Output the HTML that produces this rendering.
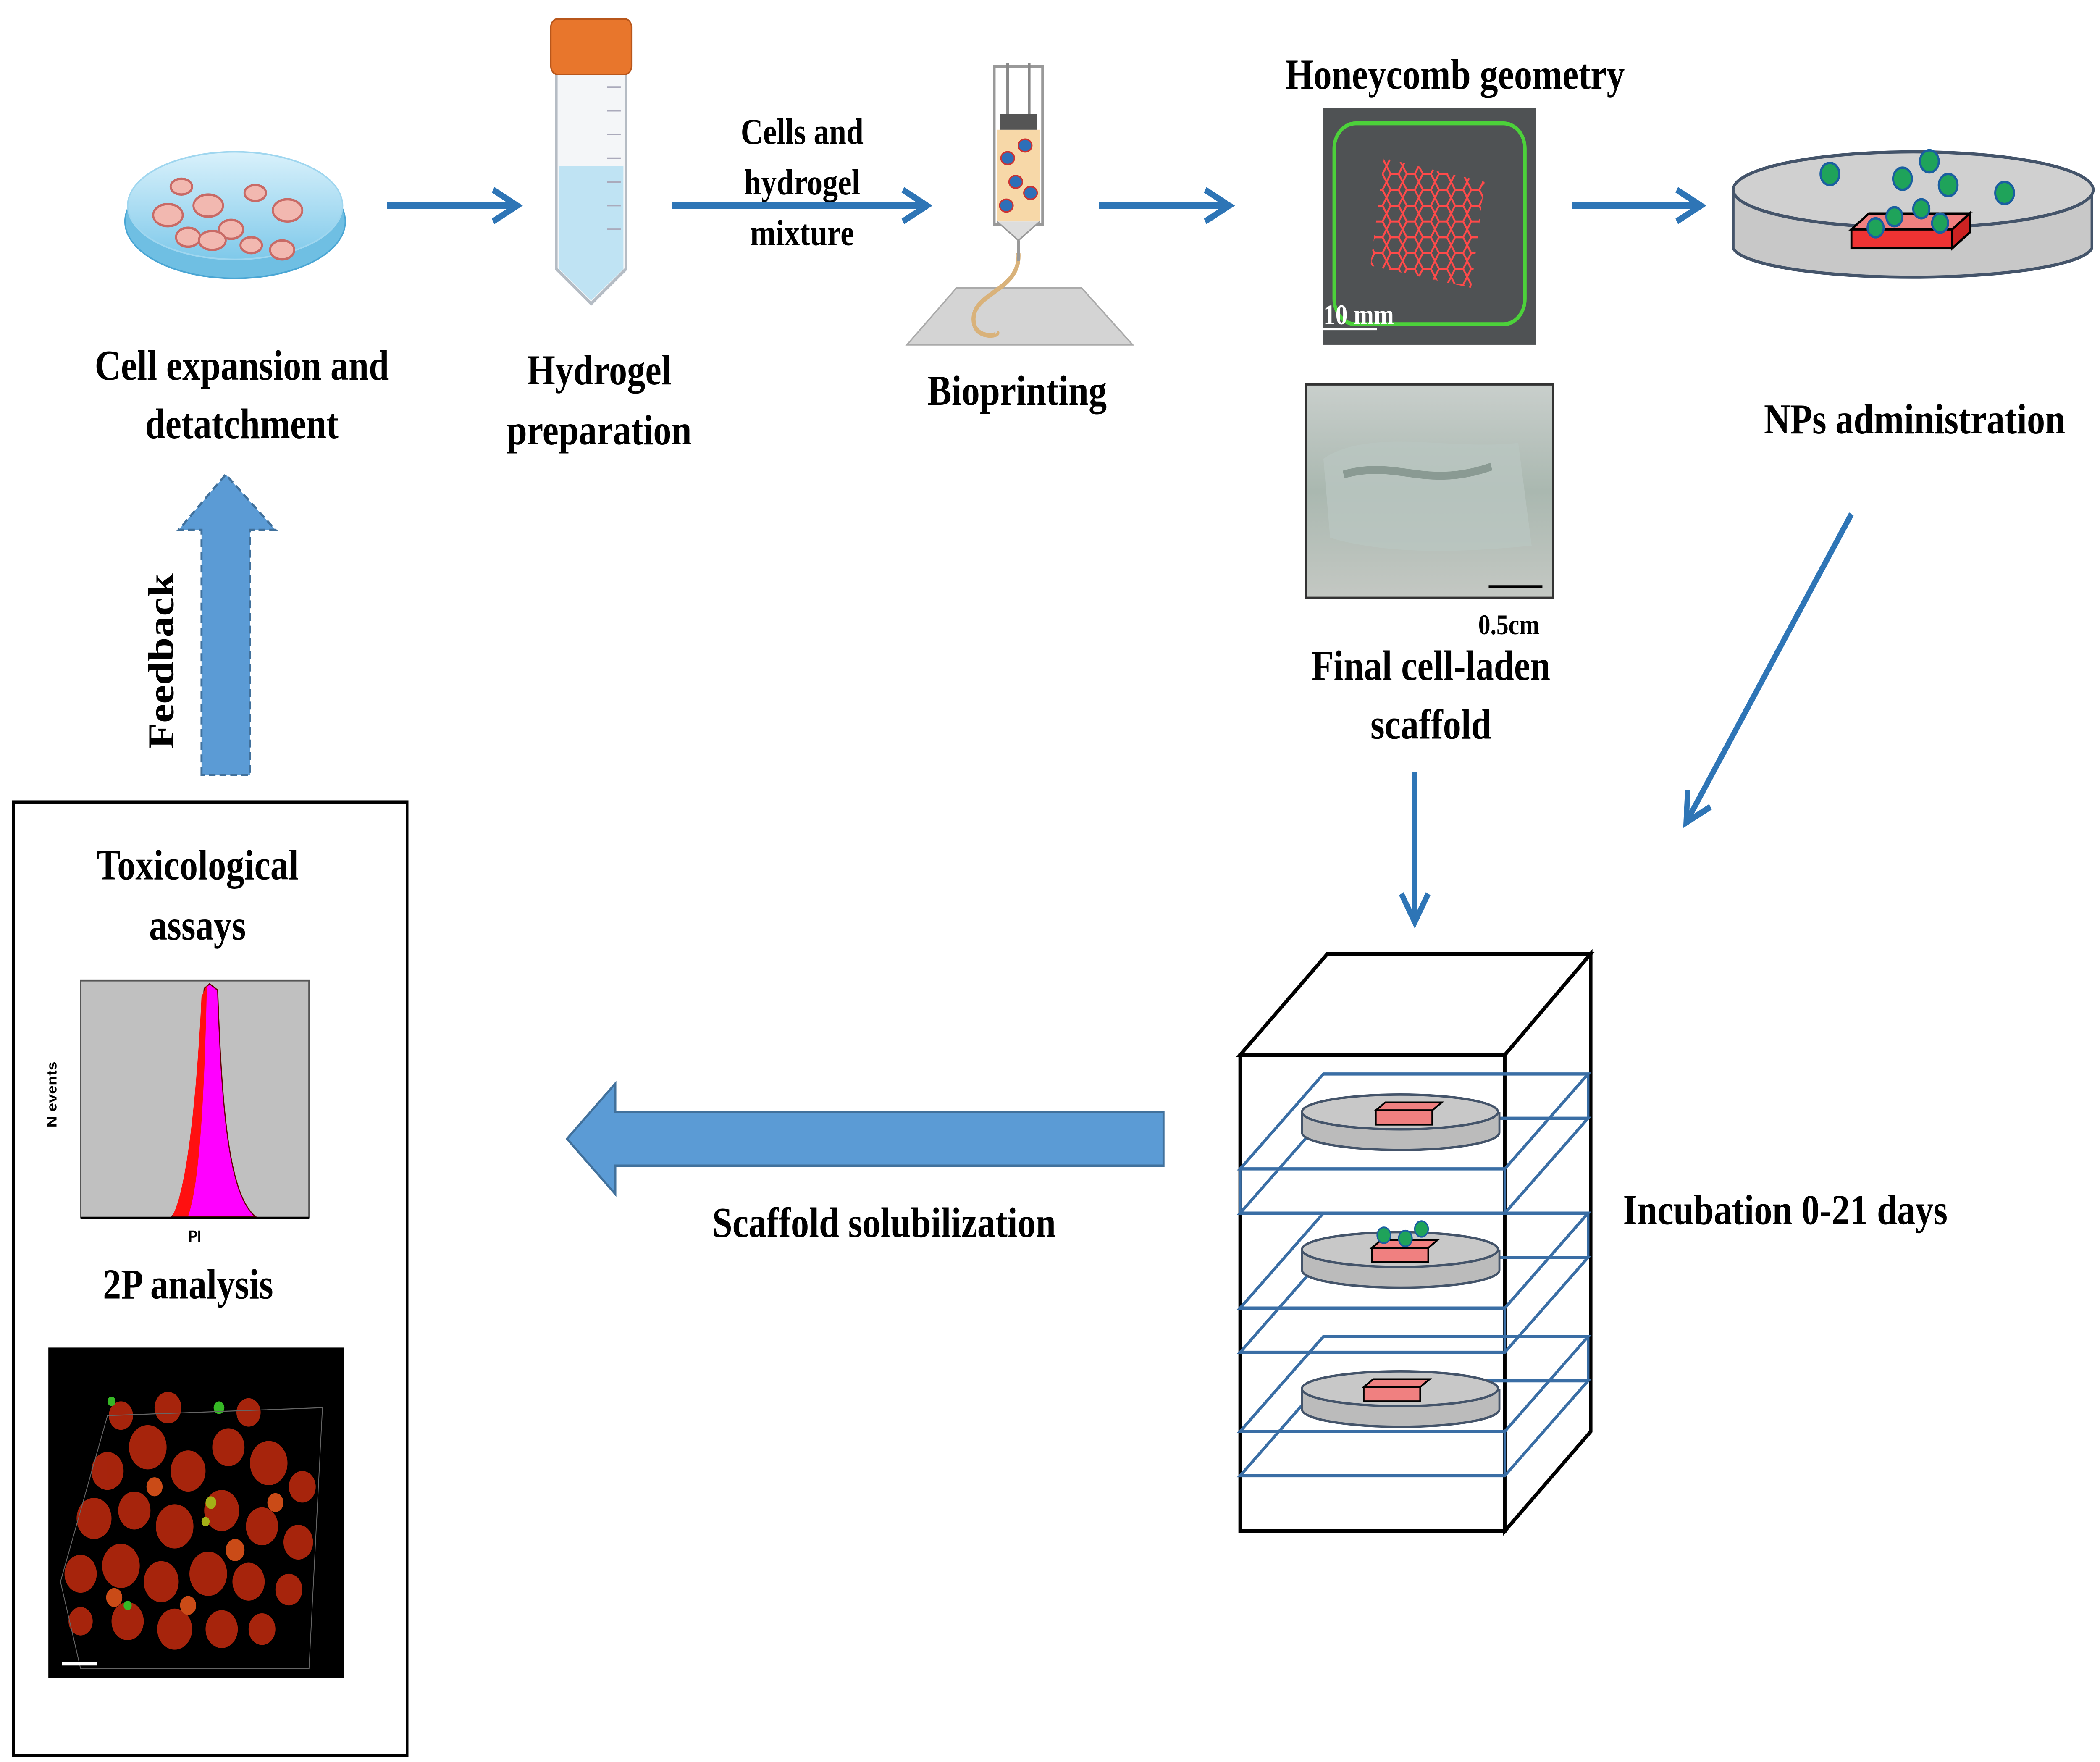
<!DOCTYPE html>
<html><head><meta charset="utf-8">
<style>
html,body{margin:0;padding:0;background:#fff;width:100%;height:100%;overflow:hidden;}
svg{display:block;width:100vw;height:100vh;}
text{font-family:"Liberation Serif",serif;font-weight:bold;fill:#000;}
</style></head>
<body>
<svg viewBox="0 0 1563 1114" preserveAspectRatio="none" xmlns="http://www.w3.org/2000/svg">
<defs>
<marker id="ah2" markerWidth="24" markerHeight="24" refX="20" refY="12" orient="auto" markerUnits="userSpaceOnUse">
<path d="M2,2 L20,12 L2,22" fill="none" stroke="#2e75b6" stroke-width="4"/>
</marker>
<pattern id="hex" width="12" height="10" patternUnits="userSpaceOnUse">
<path d="M0,5 L3,0 L9,0 L12,5 L9,10 L3,10 Z" fill="none" stroke="#ff4a4a" stroke-width="1.3"/>
</pattern>
<linearGradient id="dishg" x1="0" y1="0" x2="0" y2="1">
<stop offset="0" stop-color="#d9f1fb"/><stop offset="1" stop-color="#7fc9ea"/>
</linearGradient>
<linearGradient id="photo" x1="0" y1="0" x2="0" y2="1">
<stop offset="0" stop-color="#c9cfcc"/><stop offset="0.5" stop-color="#aab8b0"/><stop offset="1" stop-color="#c4c8c3"/>
</linearGradient>
</defs>

<ellipse cx="175" cy="140" rx="82" ry="36" fill="#6fbfe3" stroke="#4aa6d4"/>
<ellipse cx="175" cy="130" rx="80" ry="34" fill="url(#dishg)" stroke="#9fd6ef"/>
<g fill="#f2b8b0" stroke="#c86a66" stroke-width="1.5">
<ellipse cx="125" cy="136" rx="11" ry="7"/><ellipse cx="155" cy="130" rx="11" ry="7"/>
<ellipse cx="140" cy="150" rx="9" ry="6"/><ellipse cx="172" cy="145" rx="9" ry="6"/>
<ellipse cx="187" cy="155" rx="8" ry="5"/><ellipse cx="210" cy="158" rx="9" ry="6"/>
<ellipse cx="214" cy="133" rx="11" ry="7"/><ellipse cx="158" cy="152" rx="10" ry="6"/>
<ellipse cx="190" cy="122" rx="8" ry="5"/><ellipse cx="135" cy="118" rx="8" ry="5"/>
</g>
<text x="180" y="240" font-size="27" text-anchor="middle">Cell expansion and</text>
<text x="180" y="277" font-size="27" text-anchor="middle">detatchment</text>

<line x1="288" y1="130" x2="385" y2="130" stroke="#2e75b6" stroke-width="4" marker-end="url(#ah2)"/>

<path d="M414,45 L466,45 L466,170 L440,192 L414,170 Z" fill="#f4f6f8" stroke="#b5bcc4" stroke-width="2"/>
<path d="M416,105 L464,105 L464,170 L440,190 L416,170 Z" fill="#bfe3f3"/>
<rect x="410" y="12" width="60" height="35" rx="5" fill="#e8762c" stroke="#b8561b"/>
<g stroke="#aab" stroke-width="1"><line x1="452" y1="55" x2="462" y2="55"/><line x1="452" y1="70" x2="462" y2="70"/><line x1="452" y1="85" x2="462" y2="85"/><line x1="452" y1="100" x2="462" y2="100"/><line x1="452" y1="115" x2="462" y2="115"/><line x1="452" y1="130" x2="462" y2="130"/><line x1="452" y1="145" x2="462" y2="145"/></g>
<text x="446" y="243" font-size="27" text-anchor="middle">Hydrogel</text>
<text x="446" y="281" font-size="27" text-anchor="middle">preparation</text>

<line x1="500" y1="130" x2="690" y2="130" stroke="#2e75b6" stroke-width="4" marker-end="url(#ah2)"/>
<text x="597" y="91" font-size="23" text-anchor="middle">Cells and</text>
<text x="597" y="123" font-size="23" text-anchor="middle">hydrogel</text>
<text x="597" y="155" font-size="23" text-anchor="middle">mixture</text>

<polygon points="675,218 843,218 805,182 712,182" fill="#d4d4d4" stroke="#aaa"/>
<path d="M758,160 C760,185 720,185 725,205 C728,215 745,212 742,210" fill="none" stroke="#d9b27a" stroke-width="3"/>
<rect x="740" y="42" width="36" height="100" fill="#fff" stroke="#999" stroke-width="2"/>
<rect x="742" y="82" width="32" height="58" fill="#f7d8a8"/>
<rect x="744" y="72" width="28" height="10" fill="#555"/>
<line x1="750" y1="40" x2="750" y2="72" stroke="#888" stroke-width="2"/><line x1="766" y1="40" x2="766" y2="72" stroke="#888" stroke-width="2"/>
<path d="M742,140 L758,152 L774,140" fill="#ddd" stroke="#999"/>
<line x1="758" y1="152" x2="758" y2="165" stroke="#999" stroke-width="2"/>
<g fill="#2e6fb8" stroke="#c33" stroke-width="1"><ellipse cx="750" cy="100" rx="5" ry="4"/><ellipse cx="763" cy="92" rx="5" ry="4"/><ellipse cx="756" cy="115" rx="5" ry="4"/><ellipse cx="767" cy="122" rx="5" ry="4"/><ellipse cx="749" cy="130" rx="5" ry="4"/></g>
<text x="757" y="256" font-size="27" text-anchor="middle">Bioprinting</text>

<line x1="818" y1="130" x2="915" y2="130" stroke="#2e75b6" stroke-width="4" marker-end="url(#ah2)"/>

<text x="1083" y="56" font-size="27" text-anchor="middle">Honeycomb geometry</text>
<rect x="985" y="68" width="158" height="150" fill="#4f5254"/>
<rect x="993" y="78" width="142" height="127" rx="16" fill="none" stroke="#4cd13a" stroke-width="2.5"/>
<polygon points="1030,100 1105,115 1095,182 1020,168" fill="url(#hex)"/>
<text x="985" y="205" font-size="18" style="fill:#fff">10 mm</text>
<line x1="985" y1="208" x2="1025" y2="208" stroke="#fff" stroke-width="1.5"/>

<line x1="1170" y1="130" x2="1266" y2="130" stroke="#2e75b6" stroke-width="4" marker-end="url(#ah2)"/>

<path d="M1290,120 L1290,157 A134,20 0 0 0 1557,157 L1557,120" fill="#c8c8c8" stroke="#44546a" stroke-width="2"/>
<ellipse cx="1424" cy="120" rx="134" ry="24" fill="#d0d0d0" stroke="#44546a" stroke-width="2"/>
<polygon points="1378,145 1453,145 1466,135 1391,135" fill="#f08080" stroke="#000" stroke-width="1.5"/>
<rect x="1378" y="145" width="75" height="12" fill="#e33" stroke="#000" stroke-width="1.5"/>
<polygon points="1453,145 1466,135 1466,147 1453,157" fill="#c22" stroke="#000" stroke-width="1.5"/>
<g fill="#1fa35a" stroke="#1a5fa0" stroke-width="1.5"><circle cx="1362" cy="110" r="7"/><circle cx="1416" cy="113" r="7"/><circle cx="1436" cy="102" r="7"/><circle cx="1450" cy="117" r="7"/><circle cx="1492" cy="122" r="7"/><circle cx="1430" cy="132" r="6"/><circle cx="1410" cy="137" r="6"/><circle cx="1396" cy="144" r="6"/><circle cx="1444" cy="141" r="6"/></g>
<text x="1425" y="274" font-size="27" text-anchor="middle">NPs administration</text>

<rect x="972" y="243" width="184" height="135" fill="url(#photo)" stroke="#333" stroke-width="1.5"/>
<path d="M985,290 C1020,270 1080,285 1130,280 L1140,345 C1080,350 1030,350 990,340 Z" fill="#b9c6c0" opacity="0.8"/>
<path d="M1000,300 C1040,290 1060,310 1110,295" stroke="#8a9a93" stroke-width="5" fill="none"/>
<line x1="1108" y1="371" x2="1148" y2="371" stroke="#000" stroke-width="2"/>
<text x="1123" y="401" font-size="18" text-anchor="middle">0.5cm</text>
<text x="1065" y="430" font-size="27" text-anchor="middle">Final cell-laden</text>
<text x="1065" y="467" font-size="27" text-anchor="middle">scaffold</text>

<line x1="1053" y1="488" x2="1053" y2="583" stroke="#2e75b6" stroke-width="4" marker-end="url(#ah2)"/>
<line x1="1378" y1="325" x2="1255" y2="520" stroke="#2e75b6" stroke-width="4" marker-end="url(#ah2)"/>

<g fill="none" stroke="#000" stroke-width="2.5">
<polygon points="923,667 988,603 1184,603 1120,667"/>
<polygon points="1120,667 1184,603 1184,905 1120,968"/>
<rect x="923" y="667" width="197" height="301"/>
</g>
<g fill="none" stroke="#3a6ea5" stroke-width="2">
<polygon points="923,739 985,679 1182,679 1120,739"/><polygon points="923,767 985,707 1182,707 1120,767"/>
<line x1="923" y1="739" x2="923" y2="767"/><line x1="1120" y1="739" x2="1120" y2="767"/><line x1="1182" y1="679" x2="1182" y2="707"/>
<polygon points="923,827 985,767 1182,767 1120,827"/><polygon points="923,855 985,795 1182,795 1120,855"/>
<line x1="1120" y1="827" x2="1120" y2="855"/><line x1="1182" y1="767" x2="1182" y2="795"/>
<polygon points="923,905 985,845 1182,845 1120,905"/><polygon points="923,933 985,873 1182,873 1120,933"/>
<line x1="1120" y1="905" x2="1120" y2="933"/><line x1="1182" y1="845" x2="1182" y2="873"/>
</g>
<g stroke="#44546a" stroke-width="1.5">
<path d="M969,703 L969,716 A73,11 0 0 0 1116,716 L1116,703" fill="#bbb"/><ellipse cx="1042" cy="703" rx="73" ry="11" fill="#c8c8c8"/>
<path d="M969,790 L969,803 A73,11 0 0 0 1116,803 L1116,790" fill="#bbb"/><ellipse cx="1042" cy="790" rx="73" ry="11" fill="#c8c8c8"/>
<path d="M969,878 L969,891 A73,11 0 0 0 1116,891 L1116,878" fill="#bbb"/><ellipse cx="1042" cy="878" rx="73" ry="11" fill="#c8c8c8"/>
</g>
<g fill="#f08080" stroke="#000" stroke-width="1.2">
<polygon points="1024,702 1066,702 1073,697 1031,697"/><rect x="1024" y="702" width="42" height="9"/>
<polygon points="1021,789 1063,789 1070,784 1028,784"/><rect x="1021" y="789" width="42" height="9"/>
<polygon points="1015,877 1057,877 1064,872 1022,872"/><rect x="1015" y="877" width="42" height="9"/>
</g>
<g fill="#1fa35a" stroke="#1a5fa0" stroke-width="1"><circle cx="1030" cy="781" r="5"/><circle cx="1046" cy="783" r="5"/><circle cx="1058" cy="777" r="5"/></g>
<text x="1208" y="774" font-size="27">Incubation 0-21 days</text>

<polygon points="866,703 458,703 458,685 422,720 458,755 458,737 866,737" fill="#5b9bd5" stroke="#41719c" stroke-width="1.5"/>
<text x="658" y="782" font-size="27" text-anchor="middle">Scaffold solubilization</text>

<polygon points="150,490 150,335 133,335 168,300 205,335 186,335 186,490" fill="#5b9bd5" stroke="#41719c" stroke-width="1.5" stroke-dasharray="5,3"/>
<text x="0" y="0" font-size="27" text-anchor="middle" transform="translate(129,418) rotate(-90)">Feedback</text>

<rect x="10" y="507" width="293" height="603" fill="none" stroke="#000" stroke-width="2"/>
<text x="147" y="556" font-size="27" text-anchor="middle">Toxicological</text>
<text x="147" y="594" font-size="27" text-anchor="middle">assays</text>
<rect x="60" y="620" width="170" height="150" fill="#c0c0c0" stroke="#555" stroke-width="1"/>
<path d="M128,769 C140,760 145,700 152,625 L156,622 L162,626 C165,700 170,755 190,769 Z" fill="#ff00ff" stroke="#600" stroke-width="0.8"/>
<path d="M128,769 C138,755 146,700 150,630 L154,623 C152,700 148,750 140,769 Z" fill="#ff1010"/>
<line x1="60" y1="770" x2="230" y2="770" stroke="#000" stroke-width="1.5"/>
<text x="0" y="0" font-size="10" text-anchor="middle" style="font-family:'Liberation Sans',sans-serif" transform="translate(42,692) rotate(-90)">N events</text>
<text x="145" y="785" font-size="10" text-anchor="middle" style="font-family:'Liberation Sans',sans-serif">PI</text>
<text x="140" y="821" font-size="27" text-anchor="middle">2P analysis</text>
<rect x="36" y="852" width="220" height="209" fill="#000"/>
<g opacity="0.9">
<g fill="#b8280e">
<circle cx="80" cy="930" r="12"/><circle cx="110" cy="915" r="14"/><circle cx="140" cy="930" r="13"/><circle cx="170" cy="915" r="12"/><circle cx="200" cy="925" r="14"/><circle cx="225" cy="940" r="10"/>
<circle cx="70" cy="960" r="13"/><circle cx="100" cy="955" r="12"/><circle cx="130" cy="965" r="14"/><circle cx="165" cy="955" r="13"/><circle cx="195" cy="965" r="12"/><circle cx="222" cy="975" r="11"/>
<circle cx="60" cy="995" r="12"/><circle cx="90" cy="990" r="14"/><circle cx="120" cy="1000" r="13"/><circle cx="155" cy="995" r="14"/><circle cx="185" cy="1000" r="12"/><circle cx="215" cy="1005" r="10"/>
<circle cx="95" cy="1025" r="12"/><circle cx="130" cy="1030" r="13"/><circle cx="165" cy="1030" r="12"/><circle cx="195" cy="1030" r="10"/><circle cx="60" cy="1025" r="9"/>
<circle cx="90" cy="895" r="9"/><circle cx="125" cy="890" r="10"/><circle cx="185" cy="893" r="9"/>
</g>
<g fill="#e0541a"><circle cx="115" cy="940" r="6"/><circle cx="175" cy="980" r="7"/><circle cx="85" cy="1010" r="6"/><circle cx="205" cy="950" r="6"/><circle cx="140" cy="1015" r="6"/></g>
<g fill="#b5c21a"><circle cx="157" cy="950" r="4"/><circle cx="153" cy="962" r="3"/></g>
<g fill="#3ccc2a"><circle cx="83" cy="886" r="3"/><circle cx="163" cy="890" r="4"/><circle cx="95" cy="1015" r="3"/></g>
</g>
<polygon points="45,1000 80,895 240,890 230,1055 60,1055" fill="none" stroke="#666" stroke-width="0.6"/>
<line x1="46" y1="1052" x2="72" y2="1052" stroke="#fff" stroke-width="2"/>
</svg>
</body></html>
